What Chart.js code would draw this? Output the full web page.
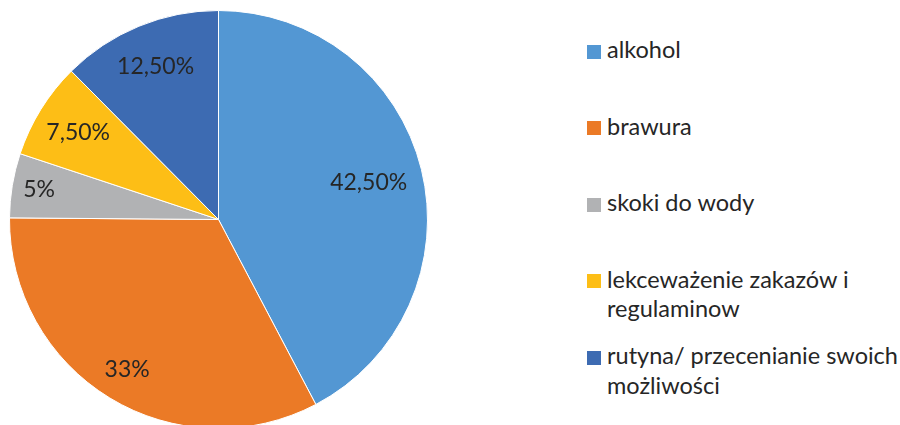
<!DOCTYPE html>
<html><head><meta charset="utf-8">
<script src="https://cdn.jsdelivr.net/npm/chart.js@4/dist/chart.umd.min.js"></script>
<style>
html,body{margin:0;padding:0;width:900px;height:425px;overflow:hidden;background:#fff;}
#wrap{position:absolute;left:9px;top:10px;width:419px;height:419px;}
#legend{position:absolute;left:587px;top:35px;font-family:Lato,"Liberation Sans",sans-serif;font-size:23.5px;color:#262626;}
.item{position:absolute;left:0;height:76px;display:flex;align-items:flex-start;white-space:nowrap;}
.box{width:14px;height:14px;margin-top:9.5px;margin-right:6px;flex:none;}
.txt{line-height:29.5px;}
</style></head>
<body>
<div id="wrap"><canvas id="c" width="419" height="419"></canvas></div>
<div id="legend"></div>
<script>
const categories = [
  "alkohol",
  "brawura",
  "skoki do wody",
  ["lekceważenie zakazów i", "regulaminow"],
  ["rutyna/ przecenianie swoich", "możliwości"]
];
const values = [42.5, 33, 5, 7.5, 12.5];
const colors = ["#5397D3", "#EB7A26", "#B1B2B4", "#FDBE16", "#3D6BB2"];
const labelRadiusFrac = [0.74, 0.84, 0.87, 0.79, 0.79];

function fmt(v){
  return (Number.isInteger(v) ? String(v) : v.toFixed(2).replace('.', ',')) + '%';
}

const labelPlugin = {
  id: 'sliceLabels',
  afterDatasetsDraw(chart){
    const ctx = chart.ctx;
    const meta = chart.getDatasetMeta(0);
    ctx.save();
    ctx.font = '23px Lato, "Liberation Sans", sans-serif';
    ctx.fillStyle = '#262626';
    ctx.textAlign = 'center';
    ctx.textBaseline = 'middle';
    meta.data.forEach((arc, i) => {
      const p = arc.getProps(['x','y','startAngle','endAngle','outerRadius'], true);
      const mid = (p.startAngle + p.endAngle) / 2;
      const r = p.outerRadius * labelRadiusFrac[i];
      ctx.fillText(fmt(values[i]), p.x + Math.cos(mid) * r, p.y + Math.sin(mid) * r);
    });
    ctx.restore();
  }
};

new Chart(document.getElementById('c'), {
  type: 'pie',
  data: {
    labels: categories,
    datasets: [{ data: values, backgroundColor: colors, borderColor: '#ffffff', borderWidth: 1 }]
  },
  options: {
    responsive: false,
    animation: false,
    layout: { padding: 0 },
    plugins: { legend: { display: false }, tooltip: { enabled: false } }
  },
  plugins: [labelPlugin]
});

const lg = document.getElementById('legend');
categories.forEach((c, i) => {
  const it = document.createElement('div');
  it.className = 'item';
  it.style.top = (i * 76.5) + 'px';
  const b = document.createElement('div');
  b.className = 'box';
  b.style.background = colors[i];
  const t = document.createElement('div');
  t.className = 'txt';
  t.innerHTML = (Array.isArray(c) ? c : [c]).join('<br>');
  it.appendChild(b); it.appendChild(t);
  lg.appendChild(it);
});
</script>
</body></html>
